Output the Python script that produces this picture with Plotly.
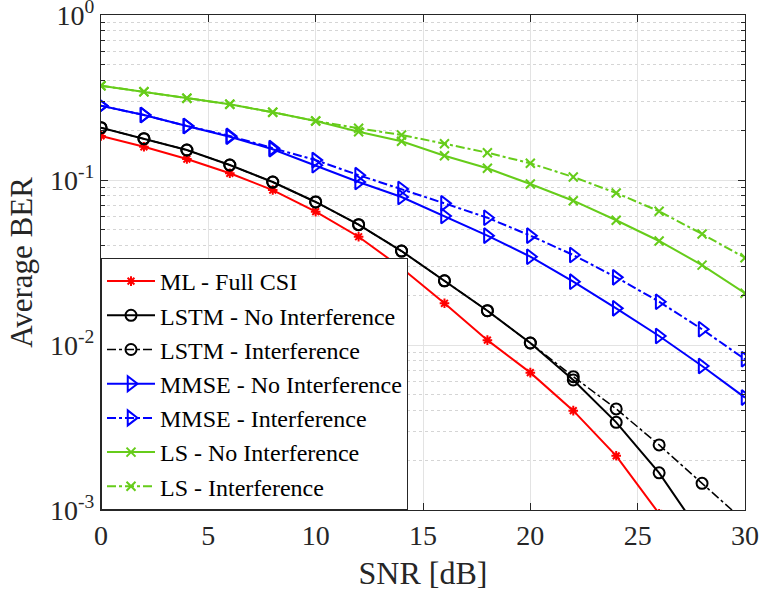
import plotly.graph_objects as go

snr = [0, 2, 4, 6, 8, 10, 12, 14, 16, 18, 20, 22, 24, 26, 28, 30]

ml_full_csi = [0.185, 0.159, 0.134, 0.1098, 0.0869, 0.0643, 0.0453, 0.0293, 0.0179, 0.0107,
               0.0068, 0.0040, 0.00213, 0.00095, 0.0004, 0.00015]
lstm_no_int = [0.2075, 0.178, 0.152, 0.1233, 0.0972, 0.0736, 0.0536, 0.0371, 0.0245, 0.01614,
               0.01028, 0.00614, 0.0034, 0.00168, 0.0007, 0.0003]
lstm_int = [0.2075, 0.178, 0.152, 0.1233, 0.0972, 0.0736, 0.0536, 0.0371, 0.0245, 0.01614,
            0.01028, 0.00643, 0.0041, 0.00248, 0.00145, 0.00085]
mmse_no_int = [0.282, 0.2477, 0.2125, 0.183, 0.1535, 0.1228, 0.0972, 0.0789, 0.0605, 0.0460,
               0.0343, 0.0242, 0.01668, 0.01134, 0.00746, 0.0048]
mmse_int = [0.282, 0.2477, 0.2125, 0.185, 0.156, 0.132, 0.107, 0.0882, 0.0722, 0.0591,
            0.0460, 0.0351, 0.0257, 0.0183, 0.01245, 0.00819]
ls_no_int = [0.3727, 0.3428, 0.3127, 0.2876, 0.2572, 0.2278, 0.1962, 0.1718, 0.1404, 0.1177,
             0.0946, 0.0749, 0.0570, 0.0427, 0.0305, 0.0206]
ls_int = [0.3727, 0.3428, 0.3127, 0.2876, 0.2572, 0.2278, 0.2057, 0.1874, 0.166, 0.1464,
          0.1262, 0.1043, 0.0834, 0.0646, 0.0471, 0.0338]

series = [
    ("ML - Full CSI", ml_full_csi, "#FF0000", "solid", "asterisk-open", 8, 2),
    ("LSTM - No Interference", lstm_no_int, "#000000", "solid", "circle-open", 11, 2),
    ("LSTM - Interference", lstm_int, "#000000", "dashdot", "circle-open", 11, 1.5),
    ("MMSE - No Interference", mmse_no_int, "#0000FF", "solid", "triangle-right-open", 13, 2),
    ("MMSE - Interference", mmse_int, "#0000FF", "dashdot", "triangle-right-open", 13, 2),
    ("LS - No Interference", ls_no_int, "#66CC1A", "solid", "x-thin-open", 9, 2),
    ("LS - Interference", ls_int, "#66CC1A", "dashdot", "x-thin-open", 9, 2),
]

fig = go.Figure()
for name, vals, color, dash, sym, size, lw in series:
    fig.add_trace(go.Scatter(
        x=snr, y=vals, name=name, mode="lines+markers",
        line=dict(color=color, width=lw, dash=dash),
        marker=dict(symbol=sym, size=size, color=color, line=dict(color=color, width=2)),
        cliponaxis=True,
    ))

font = "Liberation Serif"
minor_vals = [m * 10 ** e for e in (-3, -2, -1) for m in range(2, 10)]

fig.update_layout(
    width=763, height=596,
    margin=dict(l=101, r=18, t=15, b=86),
    paper_bgcolor="white", plot_bgcolor="white",
    font=dict(family=font, color="#262626", size=27),
    showlegend=True,
    legend=dict(
        x=0, y=0, xanchor="left", yanchor="bottom",
        bgcolor="white", bordercolor="#262626", borderwidth=1,
        font=dict(family=font, size=24, color="#000000"),
        itemwidth=48, tracegroupgap=0,
        entrywidth=279, entrywidthmode="pixels",
    ),
    xaxis=dict(
        range=[0, 30], tickvals=[0, 5, 10, 15, 20, 25, 30], automargin=False,
        showline=True, linecolor="#262626", linewidth=1, mirror="ticks",
        ticks="inside", ticklen=7, tickcolor="#262626",
        showgrid=True, gridcolor="#E3E3E3", gridwidth=1,
        zeroline=False, ticklabeloverflow="allow",
        tickfont=dict(family=font, size=28, color="#262626"),
        title=dict(text="SNR [dB]", font=dict(family=font, size=32, color="#262626"), standoff=12),
    ),
    yaxis=dict(
        type="log", range=[-3, 0], automargin=False,
        tickvals=[1e-3, 1e-2, 1e-1, 1],
        ticktext=["10<sup>-3</sup>", "10<sup>-2</sup>", "10<sup>-1</sup>", "10<sup>0</sup>"],
        showline=True, linecolor="#262626", linewidth=1, mirror="ticks",
        ticks="inside", ticklen=7, tickcolor="#262626",
        showgrid=True, gridcolor="#E3E3E3", gridwidth=1,
        zeroline=False, ticklabeloverflow="allow",
        minor=dict(tickvals=minor_vals, ticks="inside", ticklen=4, tickcolor="#262626",
                   showgrid=True, gridcolor="#D5D5D5", griddash="dot", gridwidth=1),
        tickfont=dict(family=font, size=28, color="#262626"),
        title=dict(text="Average BER", font=dict(family=font, size=31, color="#262626"), standoff=8),
    ),
)

fig.write_html("out.html")
